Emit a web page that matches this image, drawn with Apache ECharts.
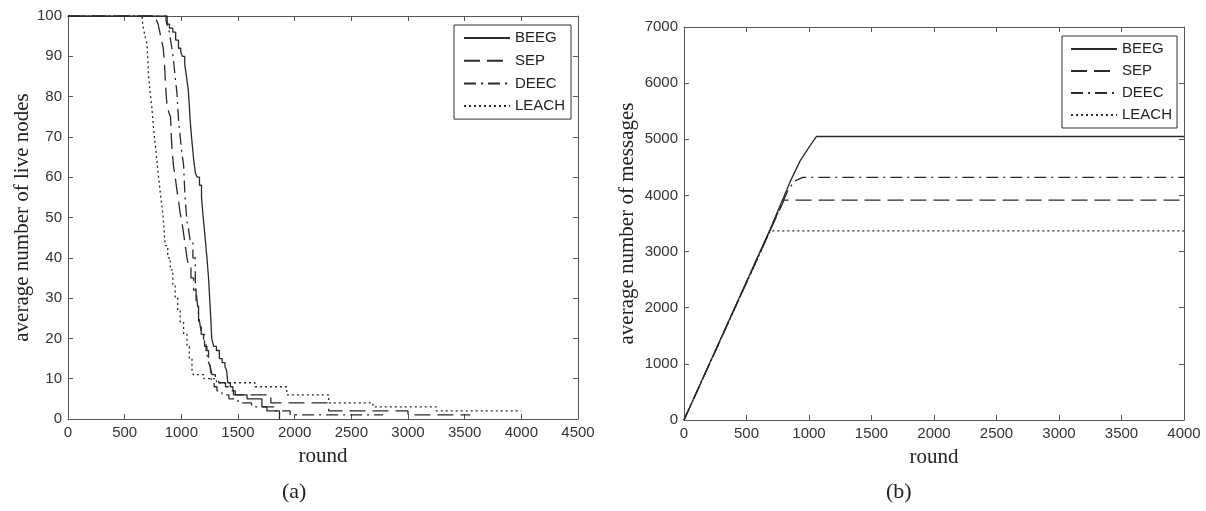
<!DOCTYPE html>
<html>
<head>
<meta charset="utf-8">
<script src="https://cdn.jsdelivr.net/npm/echarts@6/dist/echarts.min.js"></script>
<style>
    html, body { margin: 0; padding: 0; background: #fff; }
    #chart { width: 1206px; height: 511px; }
</style>
</head>
<body>
<div id="chart"></div>
<script>
// (a) live nodes per round, [round, nodes]
const beegLive = [[0,100],[875,98],[895,97],[925,96],[950,94],[975,92],[995,91],[1010,90],[1030,88],[1045,85],[1060,82],[1070,78],[1078,74],[1090,70],[1100,67],[1110,64],[1125,61],[1140,60],[1160,58],[1178,55],[1190,51],[1200,48],[1213,44],[1226,40],[1240,35],[1250,30],[1260,25],[1268,20],[1285,18],[1310,17],[1335,15],[1360,14],[1385,13],[1400,12],[1410,9],[1432,8],[1455,7],[1476,6],[1580,5],[1711,3],[1755,2],[1866,0]]
const sepLive = [[0,100],[780,99],[795,98],[810,96],[825,94],[840,92],[850,89],[857,85],[865,81],[873,78],[890,76],[905,75],[912,70],[918,67],[930,63],[946,60],[960,57],[976,54],[990,51],[1005,49],[1020,46],[1035,43],[1050,40],[1064,38],[1085,35],[1108,32],[1130,28],[1152,24],[1175,21],[1196,19],[1218,17],[1240,15],[1255,13],[1270,11],[1300,10],[1330,9],[1390,8],[1430,7],[1460,6],[1790,4],[2300,2],[3000,1],[3550,1]]
const deecLive = [[0,100],[865,99],[880,97],[896,96],[905,94],[917,92],[931,89],[945,85],[961,81],[976,74],[990,70],[1005,66],[1020,63],[1028,58],[1035,54],[1050,49],[1064,47],[1079,44],[1102,40],[1123,34],[1140,29],[1152,26],[1167,23],[1182,21],[1205,18],[1226,16],[1240,14],[1255,13],[1262,10],[1270,9],[1290,8],[1314,7],[1358,6],[1420,5],[1500,4],[1620,3],[1830,2],[1960,1],[2780,1]]
const leachLive = [[0,100],[655,99],[665,97],[680,95],[697,93],[705,89],[711,85],[725,81],[741,77],[755,72],[770,68],[785,64],[799,60],[815,56],[828,53],[840,50],[850,46],[858,43],[880,40],[902,37],[925,33],[946,30],[968,27],[990,24],[1020,21],[1050,18],[1070,15],[1094,12],[1105,11],[1200,10],[1310,9],[1650,8],[1930,6],[2300,4],[2690,3],[3250,2],[4000,2]]

// (b) messages per round, [round, messages]
const beegMsg = [[0,0],[690,3400],[850,4250],[930,4620],[1010,4890],[1060,5050],[4000,5050]]
const sepMsg = [[0,0],[800,3915],[4000,3915]]
const deecMsg = [[0,0],[830,4080],[880,4250],[950,4320],[4000,4320]]
const leachMsg = [[0,0],[690,3370],[4000,3370]]

const names = ['BEEG', 'SEP', 'DEEC', 'LEACH']
const dashes = ['solid', [16, 7], [12, 5, 2, 5], [2, 3]]

const lineColor = '#2a2a2a'
const axisColor = '#555'
const tickFont = { fontFamily: 'Liberation Sans', fontSize: 15, color: '#333' }
const titleFont = { fontFamily: 'Liberation Serif', fontSize: 21, color: '#222' }

// 坐标轴（下/左带刻度标签，上/右为镜像框线）
const makeAxis = (gridIndex, position, min, max, interval, withLabels, extra) => ({
    type: 'value',
    gridIndex,
    position,
    min,
    max,
    interval,
    splitLine: { show: false },
    axisLine: { show: true, onZero: false, lineStyle: { color: axisColor, width: 1 } },
    axisTick: { show: true, inside: true, length: 5, lineStyle: { color: axisColor } },
    axisLabel: Object.assign({ show: withLabels, margin: 6, formatter: (v) => String(v) }, tickFont),
    ...extra,
})

const makeSeries = (data, i, xi, yi, step) => ({
    name: names[i],
    type: 'line',
    xAxisIndex: xi,
    yAxisIndex: yi,
    data,
    step: step ? 'end' : false,
    symbol: 'none',
    animation: false,
    lineStyle: { color: lineColor, width: 1.3, type: dashes[i] },
    itemStyle: { color: lineColor },
})

const legendBase = {
    orient: 'vertical',
    data: names,
    itemWidth: 46,
    itemHeight: 16,
    borderColor: '#333',
    borderWidth: 1,
    backgroundColor: '#fff',
    itemStyle: { opacity: 0 },
    textStyle: { fontFamily: 'Liberation Sans', fontSize: 15, color: '#222', lineHeight: 16 },
}

const chart = echarts.init(document.getElementById('chart'))
chart.setOption({
    backgroundColor: '#fff',
    animation: false,
    grid: [
        { left: 68, top: 16, width: 510, height: 403 },
        { left: 684, top: 27, width: 500, height: 393 },
    ],
    xAxis: [
        makeAxis(0, 'bottom', 0, 4500, 500, true, {
            name: 'round', nameLocation: 'middle', nameGap: 27, nameTextStyle: titleFont,
        }),
        makeAxis(0, 'top', 0, 4500, 500, false),
        makeAxis(1, 'bottom', 0, 4000, 500, true, {
            name: 'round', nameLocation: 'middle', nameGap: 27, nameTextStyle: titleFont,
        }),
        makeAxis(1, 'top', 0, 4000, 500, false),
    ],
    yAxis: [
        makeAxis(0, 'left', 0, 100, 10, true, {
            name: 'average number of live nodes', nameLocation: 'middle', nameGap: 34, nameTextStyle: titleFont,
        }),
        makeAxis(0, 'right', 0, 100, 10, false),
        makeAxis(1, 'left', 0, 7000, 1000, true, {
            name: 'average number of messages', nameLocation: 'middle', nameGap: 46, nameTextStyle: titleFont,
        }),
        makeAxis(1, 'right', 0, 7000, 1000, false),
    ],
    legend: [
        Object.assign({}, legendBase, { left: 454, top: 25, itemGap: 6.7, padding: [5, 6, 5, 9] }),
        Object.assign({}, legendBase, { left: 1062, top: 36, itemGap: 6, padding: [5, 5, 5, 8] }),
    ],
    graphic: [
        { type: 'text', left: 282, top: 481, style: { text: '(a)', font: '22px "Liberation Serif"', fill: '#222' } },
        { type: 'text', left: 886, top: 481, style: { text: '(b)', font: '22px "Liberation Serif"', fill: '#222' } },
    ],
    series: [
        makeSeries(beegLive, 0, 0, 0, true),
        makeSeries(sepLive, 1, 0, 0, true),
        makeSeries(deecLive, 2, 0, 0, true),
        makeSeries(leachLive, 3, 0, 0, true),
        makeSeries(beegMsg, 0, 2, 2, false),
        makeSeries(sepMsg, 1, 2, 2, false),
        makeSeries(deecMsg, 2, 2, 2, false),
        makeSeries(leachMsg, 3, 2, 2, false),
    ],
})
</script>
</body>
</html>
